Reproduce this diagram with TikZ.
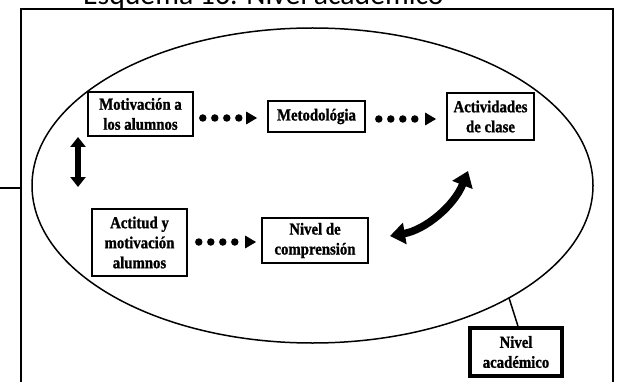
\documentclass[tikz,border=0pt]{standalone}
\usepackage{fontspec}
\setmainfont{Liberation Serif}
\newfontfamily\boxfont{Liberation Serif Bold}[FakeStretch=0.88, FakeBold=1.2]
\newfontfamily\titlefont{Carlito}
\usetikzlibrary{arrows.meta}
\tikzset{
  box/.style={draw, line width=1.6pt, align=center, inner sep=1pt,
    font=\boxfont\fontsize{16.8}{20}\selectfont},
  dotarrow/.style={line width=7.5pt, line cap=round, dash pattern=on 0pt off 12pt,
    -{Triangle[length=11pt,width=12pt]}},
  bigarrow/.style={line width=7.5pt, {Triangle[length=15pt,width=21pt]}-{Triangle[length=15pt,width=21pt]}},
  vertarrow/.style={line width=6pt, {Triangle[length=10pt,width=15pt]}-{Triangle[length=10pt,width=15pt]}},
}
\begin{document}
\begin{tikzpicture}[x=1pt,y=-1pt]
\useasboundingbox (0,0) rectangle (620,382);
\clip (0,0) rectangle (620,382);
% title (cut off at the top, as in the reference)
\node[anchor=base west, inner sep=0pt, font=\titlefont\fontsize{29.7}{30}\selectfont] (title) at (83,5) {Esquema 16. Nivel académico};
% frame
\draw[line width=2pt] (21,400) -- (21,9.5) -- (613,9.5) -- (613,400);
\draw[line width=1.5pt] (0,188) -- (21,188);
% ellipse
\draw[line width=1.5pt] (312.5,185.5) ellipse [x radius=280.5pt, y radius=157.5pt];
\coordinate (e) at (509,297.9);
% boxes
\node[box, minimum width=105pt, minimum height=44pt] (m1) at (140.5,114) {Motivación a\\los alumnos};
\node[box, minimum width=97pt, minimum height=31pt] (m2) at (316.5,116.5) {Metodológia};
\node[box, minimum width=87pt, minimum height=47pt] (m3) at (490.5,116.5) {Actividades\\de clase};
\node[box, minimum width=95pt, minimum height=67pt] (a1) at (139.5,242.5) {Actitud y\\motivación\\alumnos};
\node[box, minimum width=106pt, minimum height=45pt] (n1) at (315,240.5) {Nivel de\\comprensión};
\node[box, line width=3.5pt, minimum width=92pt, minimum height=48pt] (na) at (516,352) {Nivel\\académico};
% connectors
\draw[line width=1.5pt] (e) -- ([xshift=2pt]na.north);
\draw[dotarrow] ([xshift=9pt]m1.east |- 0,118) -- ([xshift=-10pt]m2.west |- 0,118);
\draw[dotarrow] ([xshift=13pt]m2.east |- 0,119) -- ([xshift=-10pt]m3.west |- 0,119);
\draw[dotarrow] ([xshift=11pt]a1.east |- 0,242) -- ([xshift=-5pt]n1.west |- 0,242);
\coordinate (v1) at (78,137);
\coordinate (v2) at (78,187);
\draw[vertarrow] (v1) -- (v2);
\coordinate (c1) at (468,171);
\coordinate (c2) at (390,236);
\draw[bigarrow] (c1) .. controls (454,206) and (425,230) .. (c2);
\end{tikzpicture}
\end{document}
